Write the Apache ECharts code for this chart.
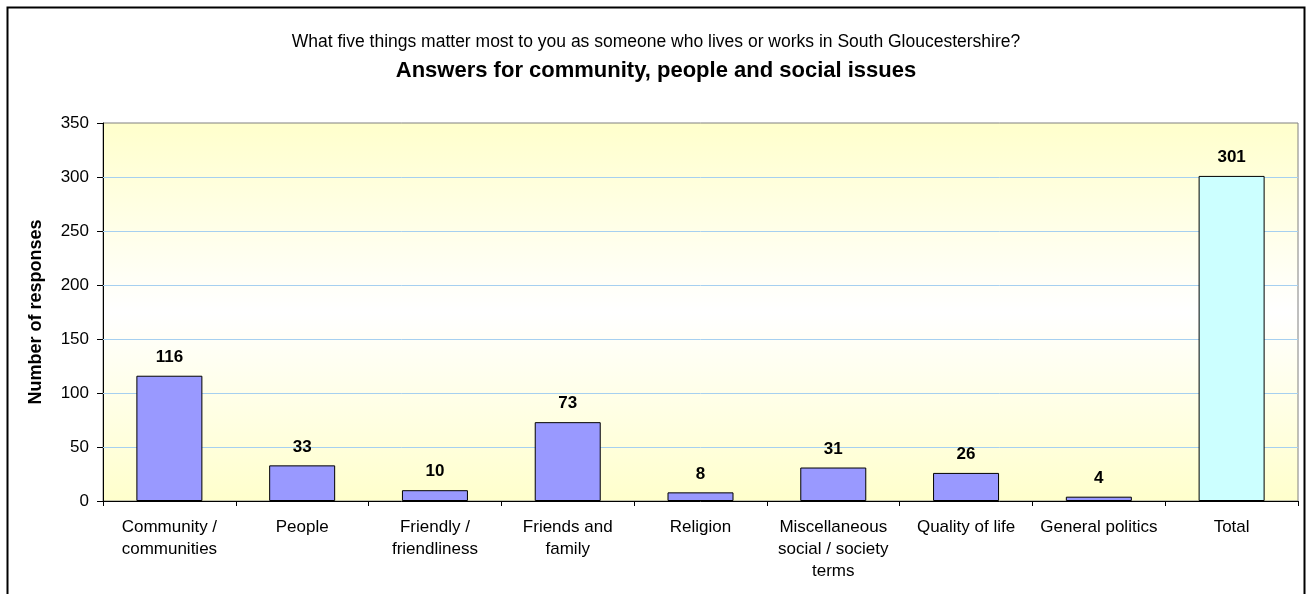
<!DOCTYPE html>
<html>
<head>
<meta charset="utf-8">
<script src="https://cdn.jsdelivr.net/npm/echarts@6/dist/echarts.min.js"></script>
<style>
    html, body { margin: 0; padding: 0; background: #fff; }
    #chart { width: 1312px; height: 594px; }
</style>
</head>
<body>
<div id="chart"></div>
<script>
// 数据
const categories = [
    'Community /\ncommunities',
    'People',
    'Friendly /\nfriendliness',
    'Friends and\nfamily',
    'Religion',
    'Miscellaneous\nsocial / society\nterms',
    'Quality of life',
    'General politics',
    'Total'
];
const responses = [116, 33, 10, 73, 8, 31, 26, 4, 301];
const barColors = ['#9999ff', '#9999ff', '#9999ff', '#9999ff', '#9999ff', '#9999ff', '#9999ff', '#9999ff', '#ccffff'];
const yTicks = [0, 50, 100, 150, 200, 250, 300, 350];

const FONT = '"Liberation Sans", Arial, sans-serif';

const chart = echarts.init(document.getElementById('chart'));

const seriesData = responses.map(function (v, i) {
    return { value: v, itemStyle: { color: barColors[i] } };
});

// 网格线（浅蓝色），用 markLine 画在各刻度上
const gridLines = yTicks.slice(1, -1).map(function (v) {
    return { yAxis: v };
});

chart.setOption({
    animation: false,
    textStyle: { fontFamily: FONT },
    graphic: [{
        type: 'rect',
        shape: { x: 7.5, y: 7.5, width: 1297, height: 620 },
        style: { fill: 'none', stroke: '#000', lineWidth: 2 },
        z: 100
    }],
    title: [{
        text: 'What five things matter most to you as someone who lives or works in South Gloucestershire?',
        left: 'center',
        top: 28,
        textStyle: { fontFamily: FONT, fontSize: 17.5, fontWeight: 'normal', color: '#000' }
    }, {
        text: 'Answers for community, people and social issues',
        left: 'center',
        top: 55,
        textStyle: { fontFamily: FONT, fontSize: 22, fontWeight: 'bold', color: '#000' }
    }],
    grid: {
        left: 103,
        right: 14,
        top: 123,
        bottom: 93,
        show: true,
        borderColor: '#808080',
        borderWidth: 1,
        backgroundColor: new echarts.graphic.LinearGradient(0, 0, 0, 1, [
            { offset: 0, color: '#ffffcc' },
            { offset: 0.5, color: '#ffffff' },
            { offset: 1, color: '#ffffcc' }
        ])
    },
    xAxis: {
        type: 'category',
        data: categories,
        axisLine: { lineStyle: { color: '#000', width: 1 } },
        axisTick: { show: true, alignWithLabel: false, length: 5, lineStyle: { color: '#000' } },
        axisLabel: {
            interval: 0,
            color: '#000',
            fontFamily: FONT,
            fontSize: 17,
            lineHeight: 22,
            margin: 15
        }
    },
    yAxis: {
        type: 'value',
        min: yTicks[0],
        max: yTicks[yTicks.length - 1],
        interval: 50,
        name: 'Number of responses',
        nameLocation: 'middle',
        nameRotate: 90,
        nameGap: 58,
        nameTextStyle: { fontFamily: FONT, fontSize: 18, fontWeight: 'bold', color: '#000' },
        axisLine: { show: true, lineStyle: { color: '#000', width: 1 } },
        axisTick: { show: true, length: 6, lineStyle: { color: '#000' } },
        axisLabel: { color: '#000', fontFamily: FONT, fontSize: 17, margin: 14 },
        splitLine: { show: false }
    },
    series: [{
        type: 'bar',
        data: seriesData,
        barWidth: 66,
        itemStyle: { borderColor: '#000', borderWidth: 1 },
        label: {
            show: true,
            position: 'top',
            distance: 10,
            color: '#000',
            fontFamily: FONT,
            fontSize: 17,
            fontWeight: 'bold'
        },
        markLine: {
            silent: true,
            symbol: 'none',
            z: 1,
            label: { show: false },
            lineStyle: { color: '#a6d0f0', width: 1, type: 'solid' },
            emphasis: { disabled: true },
            data: gridLines
        }
    }]
});

window.addEventListener('resize', function () {
    chart.resize();
});
</script>
</body>
</html>
